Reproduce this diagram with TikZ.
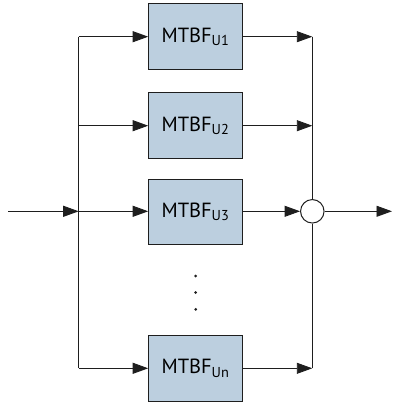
\documentclass[tikz,border=0pt]{standalone}
\usepackage{fontspec}
\setmainfont{PT Sans}
\usetikzlibrary{arrows.meta}
\definecolor{boxfill}{RGB}{188,207,223}
\definecolor{lineclr}{RGB}{30,30,30}
\tikzset{
  blk/.style={draw=lineclr, line width=1pt, fill=boxfill, minimum width=93.6pt, minimum height=65.5pt, inner sep=0pt, font=\fontsize{20.5}{24}\selectfont},
  conn/.style={draw=lineclr, line width=0.9pt},
  arr/.style={conn, -{Triangle[length=15.5pt,width=11pt]}},
  sumc/.style={circle, draw=lineclr, line width=1pt, fill=white, minimum size=23.5pt, inner sep=0pt},
  dotn/.style={circle, fill=lineclr, minimum size=3pt, inner sep=0pt}
}
\begin{document}
\begin{tikzpicture}[x=1pt,y=-1pt]
\useasboundingbox (0,0) rectangle (392,406);
\node[blk] (b1) at (195.5,36.7) {MTBF\textsubscript{U1}};
\node[blk] (b2) at (195.5,125.7) {MTBF\textsubscript{U2}};
\node[blk] (b3) at (195.5,211.8) {MTBF\textsubscript{U3}};
\node[blk] (bn) at (195.5,368.3) {MTBF\textsubscript{Un}};
\node[sumc] (s) at (312.3,211.3) {};
\node[dotn] (d1) at (195.7,276) {};
\node[dotn] (d2) at (195.7,292.5) {};
\node[dotn] (d3) at (195.7,309.3) {};
\coordinate (in) at (8.3,211.3);
\coordinate (out) at (392,211.3);
\coordinate (l1) at (78.7,36.7);
\coordinate (l2) at (78.7,125.7);
\coordinate (l3) at (78.7,211.3);
\coordinate (ln) at (78.7,368.3);
\coordinate (r1) at (312.3,36.7);
\coordinate (r2) at (312.3,125.7);
\coordinate (rn) at (312.3,368.3);
% buses
\draw[conn] (l1) -- (ln);
\draw[conn] (r1) -- (s.north);
\draw[conn] (s.south) -- (rn);
% input/output
\draw[arr] (in) -- (l3);
\draw[arr] (s.east) -- (out);
% left branches
\draw[arr] (l1) -- (b1.west);
\draw[arr] (l2) -- (b2.west);
\draw[arr] (l3) -- (b3.west |- l3);
\draw[arr] (ln) -- (bn.west);
% right branches
\draw[arr] (b1.east) -- (r1);
\draw[arr] (b2.east) -- (r2);
\draw[arr] (b3.east |- s) -- (s.west);
\draw[arr] (bn.east) -- (rn);
\end{tikzpicture}
\end{document}
